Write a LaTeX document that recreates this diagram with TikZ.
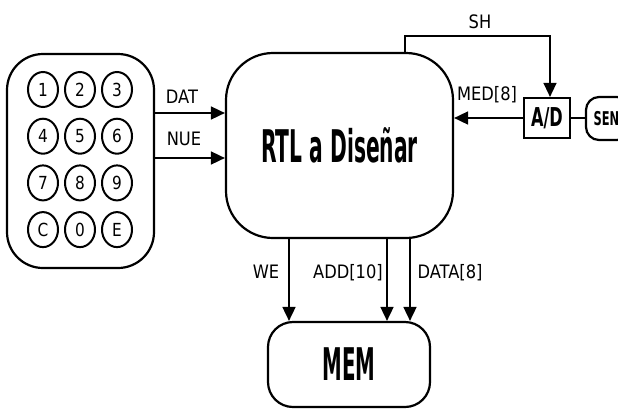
\documentclass[tikz,border=0pt]{standalone}
\usepackage{fontspec}
\usepackage{graphicx}
\setmainfont{DejaVu Sans}
\usetikzlibrary{arrows.meta,shapes.geometric}

% narrow-set text: horizontal factor, size, text
\newcommand{\narrowtext}[3]{\scalebox{#1}[1]{\fontsize{#2}{#2}\selectfont #3}}
\newcommand{\bigbold}[3]{\scalebox{#1}[1]{\fontsize{#2}{#2}\selectfont\bfseries #3}}

\begin{document}
\begin{tikzpicture}[x=1pt,y=-1pt,
  box/.style={draw,line width=2.2pt,inner sep=0pt},
  key/.style={draw,ellipse,line width=2pt,minimum width=30pt,minimum height=35pt,inner sep=0pt},
  wire/.style={line width=1.7pt},
  arr/.style={wire,-{Triangle[length=14pt,width=13pt]}},
  lbl/.style={anchor=base,inner sep=0pt}]
\useasboundingbox (0,0) rectangle (618,410);

% keypad
\node[box,rounded corners=36pt,minimum width=147pt,minimum height=214pt] (keypad) at (80.5,161) {};
\foreach \t [count=\i from 0] in {1,2,3,4,5,6,7,8,9,C,0,E} {
  \pgfmathsetmacro{\cx}{43+37*mod(\i,3)}
  \pgfmathsetmacro{\cy}{89.5+46.7*floor(\i/3)}
  \node[key] (k\i) at (\cx,\cy) {\narrowtext{0.85}{18}{\t}};
}

% main block, memory, converter and sensor
\node[box,rounded corners=47pt,minimum width=227pt,minimum height=185pt] (rtl) at (339.5,145.5)
  {\bigbold{0.45}{45}{RTL a Diseñar}};
\node[box,rounded corners=25pt,minimum width=162pt,minimum height=85pt] (mem) at (349,364.5)
  {\raisebox{-4pt}{\bigbold{0.44}{45}{MEM}}};
\node[draw,line width=2.2pt,minimum width=46pt,minimum height=40pt,inner sep=0pt] (ad) at (547,118)
  {\bigbold{0.62}{26}{A/D}};
\node[box,rounded corners=13pt,minimum width=44pt,minimum height=43pt] (sen) at (608,118.5)
  {\hspace*{-3pt}\bigbold{0.6}{19}{SEN}};

% keypad outputs
\coordinate (dat) at (0,113);
\coordinate (nue) at (0,158);
\draw[arr] (keypad.east |- dat) -- (rtl.west |- dat);
\draw[arr] (keypad.east |- nue) -- (rtl.west |- nue);
\node[lbl] (tdat) at (182,103) {\narrowtext{0.88}{18.5}{DAT}};
\node[lbl] (tnue) at (184,145) {\narrowtext{0.88}{18.5}{NUE}};

% sample and hold request
\coordinate (shx) at (405,0);
\coordinate (shy) at (0,36);
\coordinate (adin) at (550,0);
\draw[wire,line width=1.4pt,-{Triangle[length=14pt,width=13pt]}]
  (rtl.north -| shx) -- (shx |- shy) -- (adin |- shy) -- (adin |- ad.north);
\node[lbl] (tsh) at (480,28) {\narrowtext{0.88}{18.5}{SH}};

% converter output and sensor link
\draw[arr] (ad.west) -- (rtl.east |- ad.west);
\draw[wire,line width=2pt] (ad.east) -- (sen.west |- ad.east);
\node[lbl] (tmed) at (487,100) {\narrowtext{0.88}{18.5}{MED[8]}};

% memory bus
\coordinate (we) at (289,0);
\coordinate (add) at (387,0);
\coordinate (data) at (410,0);
\draw[arr] (rtl.south -| we) -- (mem.north -| we);
\draw[arr] (rtl.south -| add) -- (mem.north -| add);
\draw[arr] (rtl.south -| data) -- (mem.north -| data);
\node[lbl] (twe) at (266,278) {\narrowtext{0.88}{18.5}{WE}};
\node[lbl] (tadd) at (348,278) {\narrowtext{0.88}{18.5}{ADD[10]}};
\node[lbl] (tdata) at (450,278) {\narrowtext{0.88}{18.5}{DATA[8]}};
\end{tikzpicture}
\end{document}
